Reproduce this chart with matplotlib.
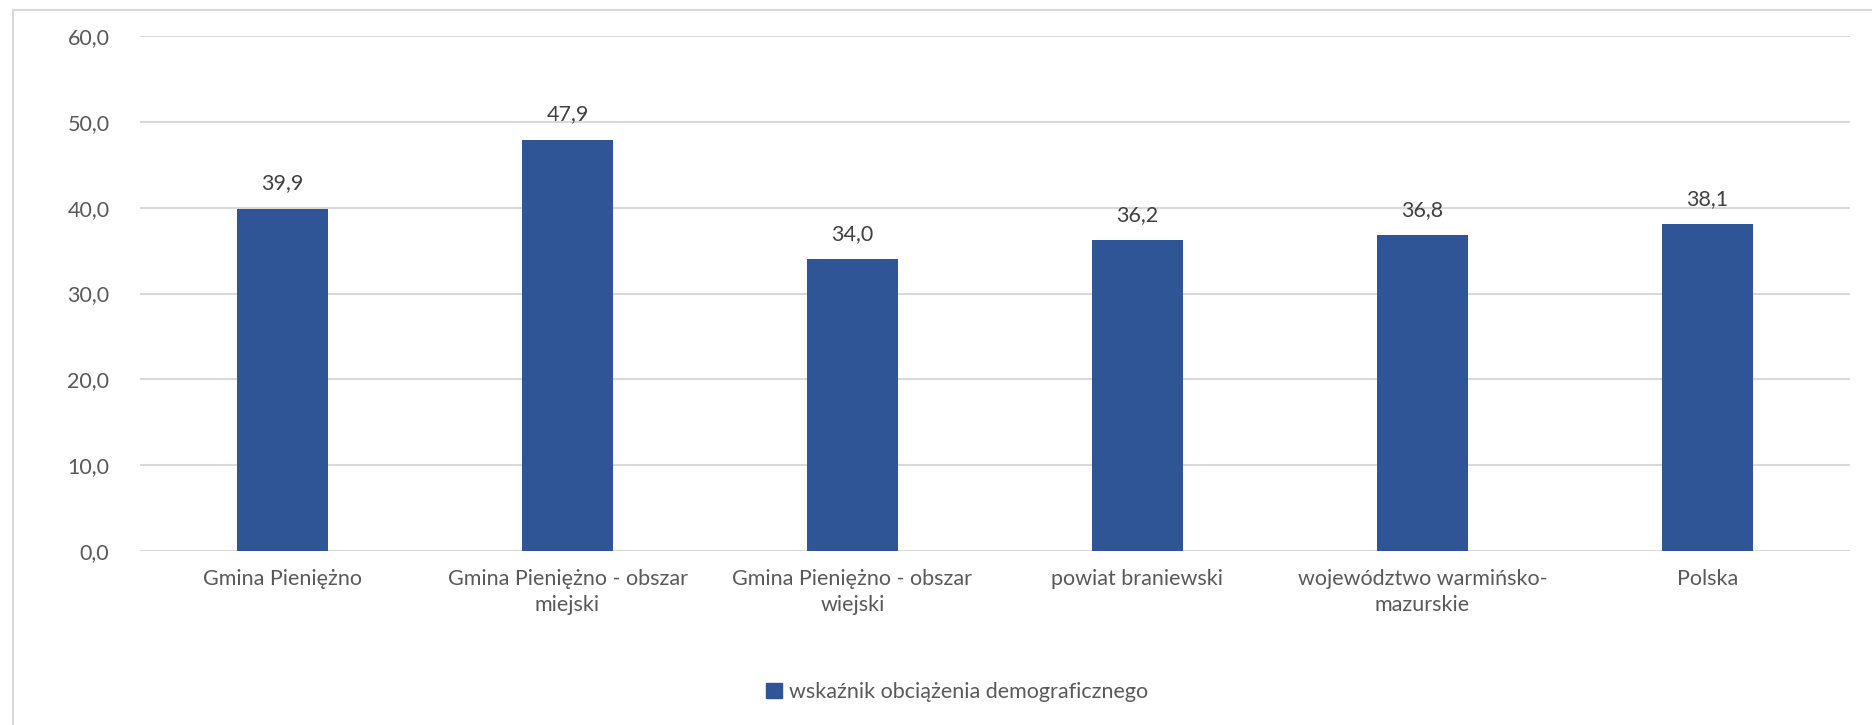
import matplotlib
matplotlib.use("Agg")
import matplotlib.pyplot as plt
from matplotlib.patches import Rectangle

categories = ["Gmina Pieniężno", "Gmina Pieniężno - obszar\nmiejski", "Gmina Pieniężno - obszar\nwiejski",
              "powiat braniewski", "województwo warmińsko-\nmazurskie", "Polska"]
values = [39.9, 47.9, 34.0, 36.2, 36.8, 38.1]
yticks = [0, 10, 20, 30, 40, 50, 60]
series_name = "wskaźnik obciążenia demograficznego"

plt.rcParams['font.family'] = ['Lato', 'DejaVu Sans']
W, H = 1872, 725
fig = plt.figure(figsize=(W/100, H/100), dpi=100)
ax = fig.add_axes([140/W, 1-551/H, (1850-140)/W, (551-36)/H])

bar_color = "#2F5597"
text_color = "#595959"
fs = 15.5
x = list(range(len(categories)))
ax.bar(x, values, width=0.316, color=bar_color, zorder=3)
ax.set_xlim(-0.5, len(categories)-0.5)
ax.set_ylim(0, 60)
ax.set_yticks(yticks)
ax.set_yticklabels([f"{v:.1f}".replace('.', ',') for v in yticks], fontsize=fs, color=text_color)
ax.set_xticks(x)
ax.set_xticklabels(categories, fontsize=fs, color=text_color, linespacing=1.4)
ax.tick_params(axis='both', length=0)
ax.tick_params(axis='y', pad=22)
ax.tick_params(axis='x', pad=13)
ax.grid(axis='y', color="#D9D9D9", linewidth=1.5, zorder=0)
for s in ax.spines.values():
    s.set_visible(False)

for xi, v in zip(x, values):
    ax.annotate(f"{v:.1f}".replace('.', ','), (xi, v), xytext=(0, 11), textcoords='offset points',
                ha='center', va='bottom', fontsize=fs, color="#404040")

# outer chart border
fig.patches.append(Rectangle((13/W, -0.05), 2, 1-10/H+0.05, transform=fig.transFigure,
                             fill=False, edgecolor="#D9D9D9", linewidth=1.5))

leg_handle = Rectangle((0, 0), 1, 1, color=bar_color)
fig.legend([leg_handle], [series_name], loc='center', bbox_to_anchor=(957/W, 1-692/H),
           frameon=False, fontsize=fs, handlelength=0.75, handleheight=0.75, handletextpad=0.3,
           labelcolor=text_color)

fig.savefig("out.png", dpi=100, facecolor="white")
